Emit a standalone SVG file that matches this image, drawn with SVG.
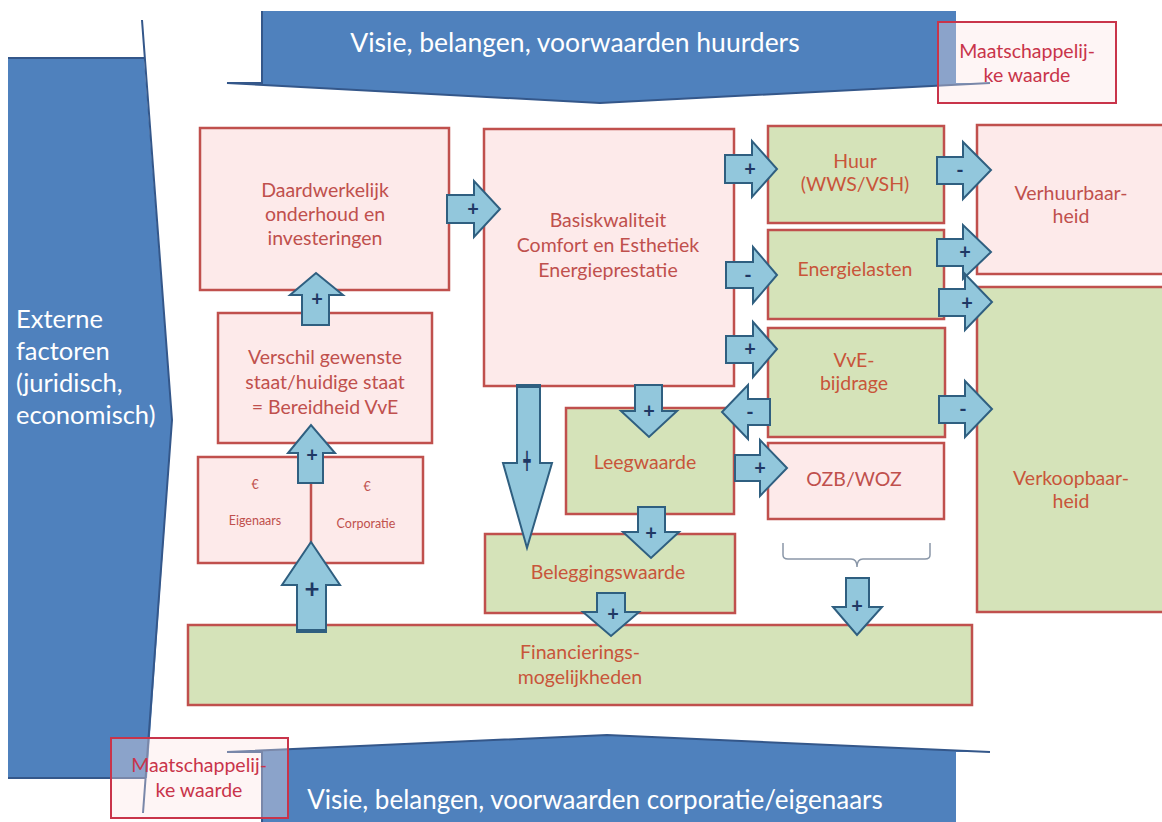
<svg xmlns="http://www.w3.org/2000/svg" width="1162" height="822" viewBox="0 0 1162 822">
<style>
.blue{fill:#4f81bd;stroke:none}
.bline{fill:none;stroke:#34578a;stroke-width:2}
.wt{font-family:Lato,'Liberation Sans',sans-serif;fill:#ffffff}
.pk{fill:#fdeaea;stroke:#c0504d;stroke-width:2.5}
.gr{fill:#d5e3b9;stroke:#c0504d;stroke-width:2.5}
.mw{fill:#fbe3e3;fill-opacity:0.35;stroke:#c9344a;stroke-width:2}
.tp{font-family:Lato,'Liberation Sans',sans-serif;font-size:19.5px;fill:#c0504d;text-anchor:middle}
.tg{font-family:Lato,'Liberation Sans',sans-serif;font-size:19.5px;fill:#c8553a;text-anchor:middle}
.tm{font-family:Lato,'Liberation Sans',sans-serif;font-size:19.5px;fill:#c9344a;text-anchor:middle}
.ts{font-family:Lato,'Liberation Sans',sans-serif;font-size:12.5px;fill:#c0504d;text-anchor:middle}
.ar{fill:#92c7dc;stroke:#2f5f80;stroke-width:2;stroke-linejoin:miter}
.lb{font-family:Lato,'Liberation Sans',sans-serif;font-size:20px;font-weight:bold;fill:#1f3864;text-anchor:middle}
.br{fill:none;stroke:#8a97a8;stroke-width:1.5}
</style>
<rect x="0" y="0" width="1162" height="822" fill="#ffffff"/>

<g id="externe-factoren">
<polygon class="blue" points="8,58 144,58 172,420 147,778 8,778"/>
<polyline class="bline" points="8,58 144,58"/>
<polyline class="bline" points="142,20 172,420 143,813"/>
<polyline class="bline" points="8,778 146,778"/>
<text class="wt" font-size="25.5" x="16" y="328">Externe</text>
<text class="wt" font-size="25.5" x="16" y="360">factoren</text>
<text class="wt" font-size="25.5" x="16" y="392">(juridisch,</text>
<text class="wt" font-size="25.5" x="16" y="424">economisch)</text>
</g>

<g id="visie-huurders">
<polygon class="blue" points="262,11 956,11 956,83 990,83 600,103 227,83 262,83"/>
<polyline class="bline" points="262,11 262,83 227,83 600,103 990,83"/>
<text class="wt" font-size="26.5" x="575" y="52" text-anchor="middle">Visie, belangen, voorwaarden huurders</text>
</g>

<g id="visie-corporatie">
<polygon class="blue" points="262,822 262,752 227,752 607,735 990,752 956,752 956,822"/>
<polyline class="bline" points="262,822 262,752 227,752 607,735 990,752"/>
<text class="wt" font-size="26" x="595" y="809" text-anchor="middle">Visie, belangen, voorwaarden corporatie/eigenaars</text>
</g>

<g id="maatschappelijke-waarde-top">
<rect class="mw" x="938" y="22" width="178" height="81"/>
<text class="tm" x="1027" y="58">Maatschappelij-</text>
<text class="tm" x="1027" y="82">ke waarde</text>
</g>

<g id="maatschappelijke-waarde-bottom">
<rect class="mw" x="111" y="738" width="177" height="80"/>
<text class="tm" x="199" y="772">Maatschappelij-</text>
<text class="tm" x="199" y="797">ke waarde</text>
</g>

<g id="daadwerkelijk-onderhoud">
<rect class="pk" x="200" y="128" width="249" height="162"/>
<text class="tp" x="325" y="197">Daardwerkelijk</text>
<text class="tp" x="325" y="221">onderhoud en</text>
<text class="tp" x="325" y="245">investeringen</text>
</g>

<g id="verschil">
<rect class="pk" x="218" y="313" width="214" height="130"/>
<text class="tp" x="325" y="364">Verschil gewenste</text>
<text class="tp" x="325" y="389">staat/huidige staat</text>
<text class="tp" x="325" y="414">=  Bereidheid VvE</text>
</g>

<g id="eigenaars-corporatie">
<rect class="pk" x="198" y="457" width="225" height="106"/>
<line x1="311" y1="457" x2="311" y2="563" stroke="#c0504d" stroke-width="2.5"/>
<text class="ts" x="255" y="489">€</text>
<text class="ts" x="367" y="491">€</text>
<text class="ts" x="255" y="525">Eigenaars</text>
<text class="ts" x="366" y="528">Corporatie</text>
</g>

<g id="basiskwaliteit">
<rect class="pk" x="484" y="129" width="250" height="257"/>
<text class="tp" x="608" y="227">Basiskwaliteit</text>
<text class="tp" x="608" y="252">Comfort en Esthetiek</text>
<text class="tp" x="608" y="277">Energieprestatie</text>
</g>

<g id="huur">
<rect class="gr" x="768" y="126" width="176" height="97"/>
<text class="tg" x="855" y="168">Huur</text>
<text class="tg" x="855" y="191">(WWS/VSH)</text>
</g>

<g id="energielasten">
<rect class="gr" x="768" y="230" width="176" height="89"/>
<text class="tg" x="855" y="276">Energielasten</text>
</g>

<g id="vve-bijdrage">
<rect class="gr" x="768" y="328" width="177" height="109"/>
<text class="tg" x="854" y="367">VvE-</text>
<text class="tg" x="854" y="390">bijdrage</text>
</g>

<g id="ozb-woz">
<rect class="pk" x="768" y="443" width="176" height="76"/>
<text class="tp" x="854" y="486">OZB/WOZ</text>
</g>

<g id="leegwaarde">
<rect class="gr" x="566" y="408" width="168" height="106"/>
<text class="tg" x="645" y="469">Leegwaarde</text>
</g>

<g id="beleggingswaarde">
<rect class="gr" x="485" y="534" width="250" height="79"/>
<text class="tg" x="608" y="579">Beleggingswaarde</text>
</g>

<g id="financieringsmogelijkheden">
<rect class="gr" x="188" y="625" width="784" height="80"/>
<text class="tg" x="580" y="659">Financierings-</text>
<text class="tg" x="580" y="684">mogelijkheden</text>
</g>

<g id="verhuurbaarheid">
<rect class="pk" x="977" y="125" width="195" height="149"/>
<text class="tp" x="1071" y="200">Verhuurbaar-</text>
<text class="tp" x="1071" y="223">heid</text>
</g>

<g id="verkoopbaarheid">
<rect class="gr" x="977" y="287" width="195" height="325"/>
<text class="tg" x="1071" y="485">Verkoopbaar-</text>
<text class="tg" x="1071" y="508">heid</text>
</g>

<g id="bracket">
<path class="br" d="M783,543 L783,555 Q783,559 788,559 L851,559 Q857,559 857,567 Q857,559 863,559 L925,559 Q930,559 930,555 L930,543"/>
</g>

<g id="connectors">
<polygon class="ar" points="447,195 474,195 474,181 500,209 474,237 474,223 447,223"/>
<polygon class="ar" points="725,155 752,155 752,141 777,169 752,197 752,183 725,183"/>
<polygon class="ar" points="726,262 753,262 753,247 777,275 753,303 753,288 726,288"/>
<polygon class="ar" points="726,336 753,336 753,322 777,349 753,377 753,363 726,363"/>
<polygon class="ar" points="937,157 963,157 963,142 991,170 963,199 963,184 937,184"/>
<polygon class="ar" points="937,239 963,239 963,225 991,252 963,279 963,266 937,266"/>
<polygon class="ar" points="939,289 965,289 965,274 992,302 965,330 965,316 939,316"/>
<polygon class="ar" points="939,396 965,396 965,381 992,409 965,437 965,423 939,423"/>
<polygon class="ar" points="735,455 760,455 760,440 787,468 760,496 760,481 735,481"/>
<polygon class="ar" points="770,399 748,399 748,385 722,412 748,439 748,425 770,425"/>
<polygon class="ar" points="635,385 662,385 662,411 677,411 649,437 621,411 635,411"/>
<polygon class="ar" points="638,507 665,507 665,532 679,532 651,558 623,532 638,532"/>
<polygon class="ar" points="597,593 625,593 625,612 639,612 611,636 583,612 597,612"/>
<polygon class="ar" points="846,578 869,578 869,607 882,607 857,635 833,607 846,607"/>
<polygon class="ar" points="517,385 540,385 540,463 552,463 527,548 503,463 517,463"/>
<line x1="517" y1="386" x2="540" y2="386" stroke="#2f5f80" stroke-width="4"/>
<polygon class="ar" points="297,632 326,632 326,585 340,585 311,542 282,585 297,585"/>
<line x1="297" y1="631" x2="326" y2="631" stroke="#2f5f80" stroke-width="4"/>
<polygon class="ar" points="298,483 323,483 323,453 335,453 311,425 288,453 298,453"/>
<polygon class="ar" points="302,325 329,325 329,295 343,295 316,273 290,295 302,295"/>
<text class="lb" x="473" y="216">+</text>
<text class="lb" x="750" y="176">+</text>
<text class="lb" x="748" y="282">-</text>
<text class="lb" x="750" y="356">+</text>
<text class="lb" x="750" y="419">-</text>
<text class="lb" x="760" y="475">+</text>
<text class="lb" x="960" y="177">-</text>
<text class="lb" x="965" y="259">+</text>
<text class="lb" x="967" y="310">+</text>
<text class="lb" x="963" y="416">-</text>
<text class="lb" x="649" y="418">+</text>
<text class="lb" x="651" y="540">+</text>
<text class="lb" x="613" y="621">+</text>
<text class="lb" x="857" y="613">+</text>
<text class="lb" x="312" y="462">+</text>
<text class="lb" x="317" y="306">+</text>
<text class="lb" style="font-size:26px" x="312" y="598">+</text>
<text class="lb" style="font-size:22px" transform="translate(527,474) scale(0.7,1.8)" x="0" y="0">+</text>
</g>
</svg>
